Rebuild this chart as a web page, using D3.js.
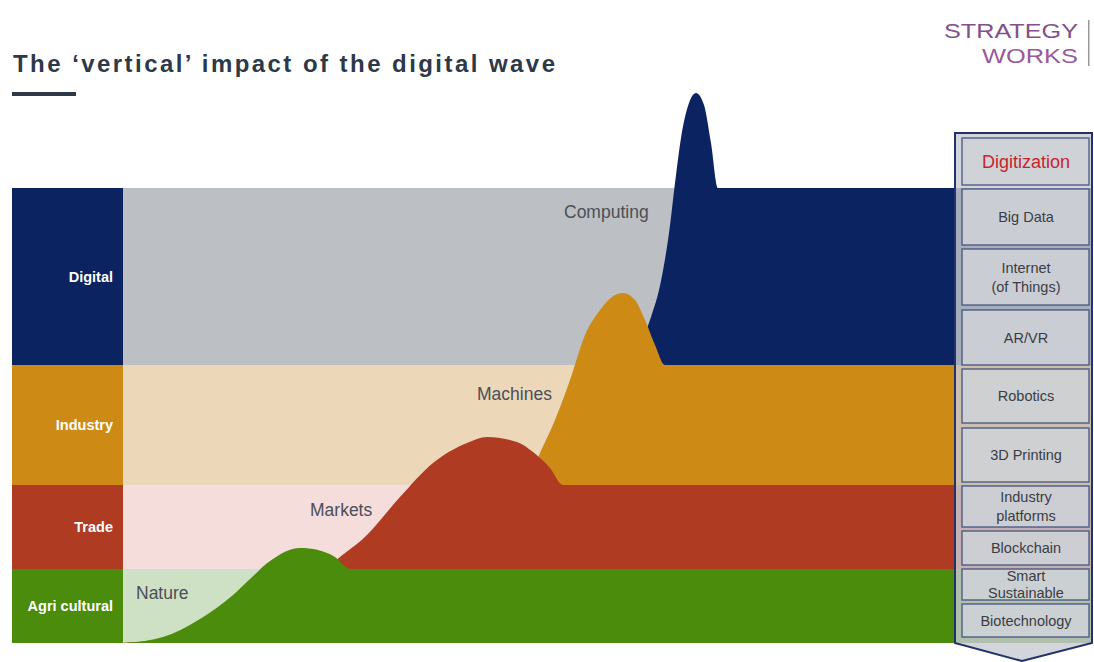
<!DOCTYPE html>
<html>
<head>
<meta charset="utf-8">
<script src="https://cdn.jsdelivr.net/npm/d3@7"></script>
<style>
  body { margin: 0; background: #fff; }
  svg { display: block; font-family: "Liberation Sans", Arial, sans-serif; }
</style>
</head>
<body>
<svg id="chart" width="1094" height="662"></svg>
<script>
// bands, bottom to top
const bandNames = ["Agri cultural", "Trade", "Industry", "Digital"];
const bandTops = [74, 158, 278, 455];
const waveNames = ["Nature", "Markets", "Machines", "Computing"];

// wave outlines: time vs height above baseline
const natureX = [0, 40, 77, 110, 127, 147, 177, 195, 212, 227, 260, 969];
const natureY = [0, 6, 24, 48, 64, 82, 95, 93, 86, 74, 74, 74];
const marketsX = [0, 120, 180, 210, 244, 277, 310, 344, 364, 394, 410, 427, 440, 480, 969];
const marketsY = [0, 15, 50, 80, 108, 146, 180, 200, 206, 201, 191, 175, 158, 158, 158];
const machinesX = [0, 250, 350, 400, 417, 432, 447, 462, 477, 489, 500, 512, 522, 532, 542, 580, 969];
const machinesY = [0, 30, 100, 150, 190, 223, 263, 308, 333, 346, 350, 343, 323, 298, 278, 278, 278];
const computingX = [0, 300, 420, 480, 510, 527, 538, 546, 552, 558, 566, 573, 581, 588, 595, 620, 969];
const computingY = [0, 20, 110, 220, 285, 323, 362, 410, 460, 505, 540, 550, 538, 500, 455, 455, 455];

const techLabels = ["Digitization", "Big Data", "Internet\n(of Things)", "AR/VR", "Robotics",
  "3D Printing", "Industry\nplatforms", "Blockchain", "Smart\nSustainable", "Biotechnology"];

const darkColors = ["#4b8c0d", "#b03b23", "#cd8a15", "#0c2362"];
const lightColors = ["#cfe1c5", "#f5dddb", "#ecd8b9", "#bcc0c5"];

const svg = d3.select("#chart");
const x = d3.scaleLinear().domain([0, 969]).range([123, 1092]);
const y = d3.scaleLinear().domain([0, 550]).range([643, 93]);

// title
svg.append("text")
  .attr("x", 13).attr("y", 72)
  .attr("font-size", 24).attr("font-weight", "bold")
  .attr("fill", "#2e3948")
  .attr("textLength", 542).attr("lengthAdjust", "spacing")
  .text("The \u2018vertical\u2019 impact of the digital wave");
svg.append("rect").attr("x", 12).attr("y", 92).attr("width", 64).attr("height", 4).attr("fill", "#2e3948");

// logo
svg.append("text").attr("x", 1078).attr("y", 38).attr("text-anchor", "end")
  .attr("font-size", 21).attr("fill", "#84508c")
  .attr("textLength", 134).attr("lengthAdjust", "spacingAndGlyphs").text("STRATEGY");
svg.append("text").attr("x", 1078).attr("y", 63).attr("text-anchor", "end")
  .attr("font-size", 21).attr("fill", "#9a5a9c")
  .attr("textLength", 96).attr("lengthAdjust", "spacingAndGlyphs").text("WORKS");
svg.append("rect").attr("x", 1088).attr("y", 20).attr("width", 1.5).attr("height", 46).attr("fill", "#999");

// light bands
const bandBottoms = [0].concat(bandTops.slice(0, -1));
svg.selectAll("rect.light").data(bandNames).enter().append("rect")
  .attr("class", "light")
  .attr("x", x(0)).attr("width", x(969) - x(0))
  .attr("y", (d, i) => y(bandTops[i]))
  .attr("height", (d, i) => y(bandBottoms[i]) - y(bandTops[i]))
  .attr("fill", (d, i) => lightColors[i]);

// waves, drawn top band first so lower waves sit over them
const waves = [
  [natureX, natureY], [marketsX, marketsY], [machinesX, machinesY], [computingX, computingY]
];
const area = d3.area()
  .x(d => x(d[0])).y0(y(0)).y1(d => y(d[1]))
  .curve(d3.curveMonotoneX);

[3, 2, 1, 0].forEach(i => {
  const pts = waves[i][0].map((v, k) => [v, waves[i][1][k]]);
  svg.append("path").attr("d", area(pts)).attr("fill", darkColors[i]);
});

// left label column
svg.selectAll("rect.dark").data(bandNames).enter().append("rect")
  .attr("class", "dark")
  .attr("x", 12).attr("width", 111)
  .attr("y", (d, i) => y(bandTops[i]))
  .attr("height", (d, i) => y(bandBottoms[i]) - y(bandTops[i]))
  .attr("fill", (d, i) => darkColors[i]);
svg.selectAll("text.band").data(bandNames).enter().append("text")
  .attr("class", "band")
  .attr("x", 113)
  .attr("y", (d, i) => (y(bandTops[i]) + y(bandBottoms[i])) / 2 + 5)
  .attr("text-anchor", "end")
  .attr("font-size", 14.5).attr("font-weight", "bold").attr("fill", "#fff")
  .text(d => d);

// wave labels
const waveLabelPos = [[136, 599], [310, 516], [477, 400], [564, 218]];
svg.selectAll("text.wave").data(waveNames).enter().append("text")
  .attr("class", "wave")
  .attr("x", (d, i) => waveLabelPos[i][0])
  .attr("y", (d, i) => waveLabelPos[i][1])
  .attr("font-size", 17.5).attr("fill", "#4a4f58")
  .text(d => d);

// right panel
svg.append("path")
  .attr("d", "M955,133 H1092 V643 L1022,661 L955,643 Z")
  .attr("fill", "rgba(200,204,210,0.82)")
  .attr("stroke", "#22336c").attr("stroke-width", 2);

const boxEdges = [[138, 185], [189, 245], [249, 305], [310, 365], [369, 423],
  [428, 482], [486, 527], [531, 565], [569, 600], [604, 637]];
const boxes = svg.selectAll("g.box").data(techLabels).enter().append("g").attr("class", "box");
boxes.append("rect")
  .attr("x", 962).attr("width", 127)
  .attr("y", (d, i) => boxEdges[i][0])
  .attr("height", (d, i) => boxEdges[i][1] - boxEdges[i][0])
  .attr("fill", "rgba(206,209,214,0.9)")
  .attr("stroke", "#44527c").attr("stroke-width", 1.5).attr("stroke-opacity", 0.85);
boxes.each(function (d, i) {
  const lines = d.split("\n");
  const mid = (boxEdges[i][0] + boxEdges[i][1]) / 2;
  const fs = i === 0 ? 18 : 14.5;
  const lh = boxEdges[i][1] - boxEdges[i][0] < 40 ? 17 : 19;
  lines.forEach((ln, k) => {
    d3.select(this).append("text")
      .attr("x", 1026)
      .attr("y", mid + fs * 0.36 + (k - (lines.length - 1) / 2) * lh)
      .attr("text-anchor", "middle")
      .attr("font-size", fs)
      .attr("fill", i === 0 ? "#c8242c" : "#3a3d44")
      .text(ln);
  });
});
</script>
</body>
</html>
